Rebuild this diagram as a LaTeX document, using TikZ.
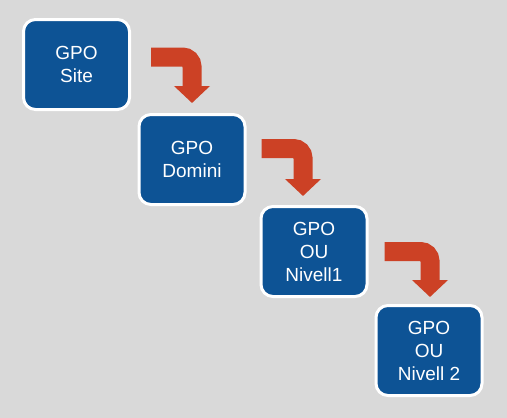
\documentclass[tikz,border=0pt]{standalone}
\usepackage{fontspec}
\setmainfont{Liberation Sans}
\usepackage{tikz}
\usetikzlibrary{arrows.meta,calc,positioning}
\definecolor{gpoblue}{RGB}{13,83,149}
\definecolor{gpored}{RGB}{204,65,37}
\definecolor{gpobg}{RGB}{217,217,217}

\begin{document}
\begin{tikzpicture}[x=1pt, y=-1pt, on grid]

	\tikzset{
		gpobox/.style = {rectangle, rounded corners=12pt, fill=gpoblue, draw=white,
			line width=3pt, minimum width=106pt, minimum height=90pt,
			text=white, align=center, inner sep=0pt,
			font=\fontsize{19}{23}\selectfont},
		bent/.style = {draw=gpored, line width=19pt, rounded corners=9.5pt,
			-{Triangle[width=35pt, length=17pt]}}
	}

	\fill[gpobg] (0,0) rectangle (507,418);
	\useasboundingbox (0,0) rectangle (507,418);

	\node[gpobox] (site) at (76.5,64.5) {GPO\\Site};
	\node[gpobox] (domini) [below right = 95pt and 115.5pt of site] {GPO\\Domini};
	\node[gpobox] (ou1) [below right = 92pt and 122pt of domini] {GPO\\OU\\Nivell1};
	\node[gpobox] (ou2) [below right = 99pt and 115pt of ou1] {GPO\\OU\\Nivell 2};

	\draw[bent] ([xshift=20pt, yshift=7.5pt]site.east) -| ([yshift=10pt]domini.north);
	\draw[bent] ([xshift=15pt, yshift=11pt]domini.east) -| ([xshift=-11pt, yshift=9pt]ou1.north);
	\draw[bent] ([xshift=16pt]ou1.east) -| ([xshift=1pt, yshift=7pt]ou2.north);

\end{tikzpicture}
\end{document}
